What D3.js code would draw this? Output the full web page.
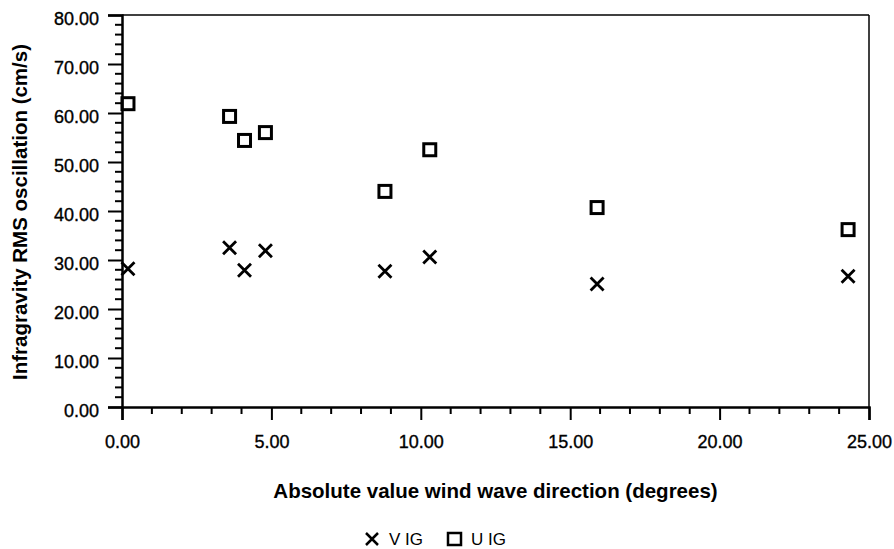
<!DOCTYPE html>
<html lang="en">
<head>
<meta charset="utf-8">
<title>Infragravity RMS oscillation</title>
<script src="https://d3js.org/d3.v7.min.js"></script>
<style type="text/css">
  body { margin: 0; background: #fff; }
  svg text { font-family: "Liberation Sans", Arial, Helvetica, sans-serif; fill: #000; }
  .tick-label { font-size: 18px; stroke: #000; stroke-width: 0.35px; }
  .axis-title { font-size: 20.5px; font-weight: bold; }
  .legend-label { font-size: 17px; }
</style>
</head>
<body>
<script type="text/javascript">

  // Chart data
  var direction = [0.2, 3.6, 4.1, 4.8, 8.8, 10.3, 15.9, 24.3];
  var vIG = [28.2, 32.5, 27.9, 31.9, 27.7, 30.6, 25.1, 26.7];
  var uIG = [61.9, 59.3, 54.4, 56.0, 44.0, 52.5, 40.7, 36.2];
  var xTicks = [0, 5, 10, 15, 20, 25];
  var yTicks = [0, 10, 20, 30, 40, 50, 60, 70, 80];

  var width = 894;
  var height = 549;
  var margin = { left: 122, right: 25, top: 15, bottom: 142 };

  var xScale = d3.scaleLinear()
    .domain([0, 25])
    .range([margin.left, width - margin.right]);

  var yScale = d3.scaleLinear()
    .domain([0, 80])
    .range([height - margin.bottom, margin.top]);

  var svg = d3.select("body")
    .append("svg")
    .attr("width", width)
    .attr("height", height);

  // frame: thin top and right lines
  svg.append("line")
    .attr("x1", xScale(0)).attr("x2", xScale(25))
    .attr("y1", yScale(80)).attr("y2", yScale(80))
    .attr("stroke", "#000").attr("stroke-width", 1.5);
  svg.append("line")
    .attr("x1", xScale(25)).attr("x2", xScale(25))
    .attr("y1", yScale(80)).attr("y2", yScale(0))
    .attr("stroke", "#000").attr("stroke-width", 1.5);

  // minor ticks
  svg.append("g")
    .selectAll("line")
    .data(d3.range(0, 25.01, 1).filter(function(d) { return d % 5 !== 0; }))
    .enter()
    .append("line")
    .attr("x1", function(d) { return xScale(d); })
    .attr("x2", function(d) { return xScale(d); })
    .attr("y1", yScale(0))
    .attr("y2", yScale(0) + 7)
    .attr("stroke", "#000").attr("stroke-width", 2);

  svg.append("g")
    .selectAll("line")
    .data(d3.range(0, 80.01, 2).filter(function(d) { return d % 10 !== 0; }))
    .enter()
    .append("line")
    .attr("y1", function(d) { return yScale(d); })
    .attr("y2", function(d) { return yScale(d); })
    .attr("x1", xScale(0))
    .attr("x2", xScale(0) - 7)
    .attr("stroke", "#000").attr("stroke-width", 2);

  // main axes
  var xAxis = d3.axisBottom(xScale)
    .tickValues(xTicks)
    .tickSize(13)
    .tickPadding(15)
    .tickFormat(d3.format(".2f"));

  var yAxis = d3.axisLeft(yScale)
    .tickValues(yTicks)
    .tickSize(14)
    .tickPadding(9)
    .tickFormat(d3.format(".2f"));

  var gx = svg.append("g")
    .attr("transform", "translate(0," + yScale(0) + ")")
    .call(xAxis);
  var gy = svg.append("g")
    .attr("transform", "translate(" + xScale(0) + ",0)")
    .call(yAxis);

  [gx, gy].forEach(function(g) {
    g.attr("font-family", null).attr("font-size", null);
    g.select(".domain").attr("stroke", "#000").attr("stroke-width", 2.5);
    g.selectAll(".tick line").attr("stroke", "#000").attr("stroke-width", 2);
    g.selectAll(".tick text").attr("class", "tick-label");
  });
  gy.selectAll(".tick text").attr("dy", "0.5em");

  // axis titles
  svg.append("text")
    .attr("class", "axis-title")
    .attr("x", (xScale(0) + xScale(25)) / 2)
    .attr("y", 498)
    .attr("text-anchor", "middle")
    .text("Absolute value wind wave direction (degrees)");

  svg.append("text")
    .attr("class", "axis-title")
    .attr("transform", "translate(27," + 212 + ") rotate(-90)")
    .attr("text-anchor", "middle")
    .text("Infragravity RMS oscillation (cm/s)");

  // markers
  var crossSize = 6.5;
  var sqSize = 6;

  svg.append("g")
    .selectAll("path")
    .data(direction)
    .enter()
    .append("path")
    .attr("d", function(d, i) {
      var x = xScale(d), y = yScale(vIG[i]);
      return "M" + (x - crossSize) + "," + (y - crossSize) + "L" + (x + crossSize) + "," + (y + crossSize) +
             "M" + (x - crossSize) + "," + (y + crossSize) + "L" + (x + crossSize) + "," + (y - crossSize);
    })
    .attr("stroke", "#000")
    .attr("stroke-width", 2.8)
    .attr("fill", "none");

  svg.append("g")
    .selectAll("rect")
    .data(direction)
    .enter()
    .append("rect")
    .attr("x", function(d) { return xScale(d) - sqSize; })
    .attr("y", function(d, i) { return yScale(uIG[i]) - sqSize; })
    .attr("width", sqSize * 2)
    .attr("height", sqSize * 2)
    .attr("stroke", "#000")
    .attr("stroke-width", 3)
    .attr("fill", "none");

  // legend
  var legend = svg.append("g").attr("transform", "translate(0,539)");
  legend.append("path")
    .attr("d", "M366,-6L378,6M366,6L378,-6")
    .attr("stroke", "#000").attr("stroke-width", 2.5).attr("fill", "none");
  legend.append("text")
    .attr("class", "legend-label")
    .attr("x", 389).attr("y", 6)
    .text("V IG");
  legend.append("rect")
    .attr("x", 448).attr("y", -6).attr("width", 13).attr("height", 12)
    .attr("stroke", "#000").attr("stroke-width", 2.5).attr("fill", "none");
  legend.append("text")
    .attr("class", "legend-label")
    .attr("x", 471).attr("y", 6)
    .text("U IG");

</script>
</body>
</html>
